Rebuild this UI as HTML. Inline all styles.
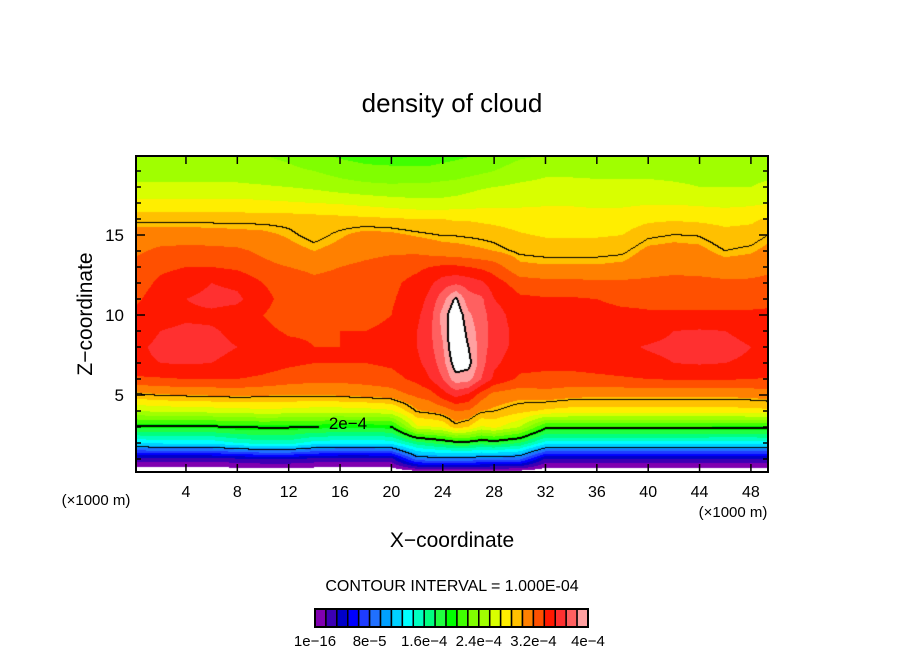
<!DOCTYPE html>
<html><head><meta charset="utf-8">
<style>
html,body{margin:0;padding:0;background:#fff;}
#wrap{position:relative;width:904px;height:654px;overflow:hidden;font-family:"Liberation Sans",sans-serif;}
#field{position:absolute;left:136px;top:156px;}
svg{position:absolute;left:0;top:0;}
</style></head>
<body>
<div id="wrap">
<canvas id="field" width="632" height="316"></canvas>
<svg id="ov" width="904" height="654">
  <text x="452" y="112" font-size="26" text-anchor="middle">density of cloud</text>
  <text x="0" y="0" font-size="21" text-anchor="middle" transform="translate(92,314) rotate(-90)">Z−coordinate</text>
  <text x="452" y="547" font-size="21" text-anchor="middle">X−coordinate</text>
  <text x="96" y="505" font-size="15" text-anchor="middle">(×1000 m)</text>
  <text x="733" y="517" font-size="15" text-anchor="middle">(×1000 m)</text>
  <text x="452" y="591" font-size="16" text-anchor="middle">CONTOUR INTERVAL = 1.000E-04</text>
  <text x="348" y="429" font-size="17" text-anchor="middle">2e−4</text>
  <g id="axes"></g>
  <g id="cbar"></g>
  <rect x="136" y="156" width="632" height="316" fill="none" stroke="#000" stroke-width="2"/>
</svg>
</div>
<script>
// grid data (value in units of 1.6e-5)
const xs=[0,2,4,6,8,10,12,14,16,18,20,22,23,24,25,26,27,28,30,32,34,36,38,40,42,44,46,48,50];
const zs=[20,19,18,17,16,15,14,13,12,11,10,9,8,7,6,5,4,3,2,1,0];
const r20=[15,15,15,15,15,15,14.8,14.3,13.8,13.6,13.6,13.6,13.6,13.7,13.8,13.9,14.1,14.3,14.8,15,15,15,15,15,15,15,15,15,15];
const r19=[15.5,15.5,15.5,15.5,15.5,15.4,15.2,15,14.6,14.3,14.2,14.2,14.2,14.3,14.4,14.6,14.8,15,15.5,15.8,15.8,15.8,15.8,15.8,15.8,15.8,15.8,15.8,15.8];
const r18=[16.2,16.2,16.2,16.2,16.2,16.1,16,15.8,15.5,15.3,15.2,15.3,15.3,15.4,15.5,15.7,15.9,16,16.2,16.3,16.3,16.2,16.2,16.2,16.1,16,16,16,16.2];
const r17=[17.3,17.3,17.3,17.3,17.3,17.2,17.1,17,16.9,16.7,16.5,16.3,16.3,16.3,16.4,16.5,16.6,16.7,16.8,16.9,16.9,16.8,16.8,16.9,16.9,16.8,16.7,16.8,17];
const r16=[18.5,18.5,18.5,18.5,18.5,18.5,18.5,18.4,18.3,18.2,18.1,18,18,18,17.9,17.9,17.8,17.7,17.5,17.4,17.4,17.4,17.5,17.8,17.9,17.8,17.7,17.8,18.3];
const r15=[19.5,19.5,19.5,19.4,19.3,19.2,18.9,18.5,18.9,19.3,19.2,18.9,18.8,18.7,18.7,18.65,18.6,18.5,18.1,17.9,17.9,17.9,18,18.6,18.75,18.7,18.3,18.4,18.9];
const r14=[19.8,20.2,20.3,20.3,20.2,19.8,19.3,19,19.3,19.6,19.8,19.8,19.6,19.4,19.3,19.2,19.1,19,18.6,18.5,18.5,18.5,18.6,19.2,19.3,19.2,18.75,18.9,19.4];
const r13=[20.3,20.8,21,21,20.8,20.3,20,19.8,20,20.3,20.6,20.8,21,21.2,21.2,21,20.8,20.5,19.2,19.1,19.1,19.1,19.2,19.6,19.7,19.6,19.4,19.5,19.8];
const r12=[20.5,21.2,21.5,22,21.8,21,20.5,20.2,20.3,20.5,20.8,21.3,21.8,22.5,22.8,22.6,22.2,21.5,20.5,20.3,20.3,20.2,20.2,20.2,20.3,20.3,20.2,20.2,20.4];
const r11=[20.8,21.5,22,22.3,22.2,21.3,20.6,20.4,20.5,20.6,20.9,21.5,22.3,23.6,25.2,23.4,23.2,22,21.2,21.1,21.1,21,20.8,20.8,20.8,20.8,20.8,20.8,20.9];
const r10=[21.2,21.6,21.8,21.8,21.6,21,20.6,20.6,20.7,20.7,21,21.8,22.6,24.4,26,24.2,23.4,22.5,21.4,21.3,21.4,21.3,21.2,21.1,21.1,21.1,21.1,21.1,21.1];
const r9=[21.5,22,22.2,22.1,21.8,21.2,20.9,20.9,21,21,21.2,22,22.8,24.2,26.3,24.6,23.5,22.6,21.6,21.4,21.4,21.4,21.4,21.5,22,22.1,22,21.8,21.3];
const r8=[21.8,22.2,22.3,22.2,22,21.5,21.2,21,21,21.1,21.3,22,22.7,23.9,26.2,25,23.5,22.5,21.6,21.5,21.5,21.6,21.8,22.1,22.3,22.3,22.2,22,21.6];
const r7=[21.8,22,22.1,22,21.8,21.5,21.2,21,21,21,21.2,21.8,22.4,23.6,25.6,25.4,23.4,22.2,21.4,21.3,21.3,21.4,21.5,21.7,22,22.1,22,21.9,21.5];
const r6=[20.8,20.9,21,21,21,20.8,20.5,20.3,20.3,20.4,20.6,21.3,22,23,24.6,24.4,23,21.8,20.8,20.7,20.7,20.8,20.9,21,21.1,21.1,21.1,21,20.9];
const r5=[18.6,18.9,19,19.1,19.2,19.1,19,19,19.1,19.3,19.5,20.2,20.5,21.5,22.3,21.8,20.5,19.6,19.3,19.6,19.3,19.2,19.2,19.2,19.2,19.2,19.2,19.3,19.5];
const r4=[16,16.2,16.3,16.4,16.5,16.7,16.6,16.4,16.4,16.5,16.8,18.9,19.1,19.4,20,19.9,19,18.8,18.3,17.8,17.6,17.6,17.6,17.6,17.6,17.6,17.6,17.7,17.8];
const r3=[12.2,12.3,12.3,12.3,12.6,12.6,12.6,12.4,12.3,12.3,12.4,16.8,16.9,17.2,18.5,18,16.8,17.3,16,12.9,12.9,12.9,12.9,12.9,12.9,12.9,12.8,12.8,12.9];
const r2=[8,8.2,8.3,8.3,9,9.5,9.5,8.5,8.3,8.3,8.4,10.5,11,11.5,12,12,11.5,11.8,11,8.5,8.5,8.5,8.5,8.5,8.5,8.5,8.5,8.5,8.6];
const r1=[1.5,1.5,1.5,1.5,1.8,2,2,1.7,1.5,1.5,1.6,5.6,5.8,5.8,5.8,5.8,5.6,5.5,5.3,1.8,1.8,1.8,1.8,1.8,1.8,1.8,1.8,1.8,1.8];
const r0=[-1.5,-1.5,-1.5,-1.5,-1.5,-1.5,-1.5,-1.5,-1.5,-1.5,-1.5,-2,-2,-2,-2,-2,-2,-2,-2,-1.5,-1.5,-1.5,-1.5,-1.5,-1.5,-1.5,-1.5,-1.5,-1.5];
const grid=[r20,r19,r18,r17,r16,r15,r14,r13,r12,r11,r10,r9,r8,r7,r6,r5,r4,r3,r2,r1,r0];
const palette=["#8000b0","#3c00b4","#0000c8","#0000ff","#1e3cff","#2070ff","#00a0ff","#00d0ff","#00ffff","#00ffc0","#00ff80","#20ff40","#00ff00","#40ff00","#80ff00","#a0ff00","#d8ff00","#ffee00","#ffc000","#ff8000","#ff5000","#ff1800","#ff3030","#ff6060","#ffa0a0"];
const cbarLabels=["1e−16","8e−5","1.6e−4","2.4e−4","3.2e−4","4e−4"];
const xTicks=[4,8,12,16,20,24,28,32,36,40,44,48];
const yTicks=[5,10,15];

// axis functions
const X0=134.6, XS=12.84, Z0=475, ZS=16;
function xPx(x){return X0+XS*x;}
function zPx(z){return Z0-ZS*z;}
function xData(px){return (px-X0)/XS;}
function zData(py){return (Z0-py)/ZS;}

function sample(x,z){
  x=Math.max(0,Math.min(50,x)); z=Math.max(0,Math.min(20,z));
  let i=0; while(i<xs.length-2 && x>xs[i+1]) i++;
  const fx=(x-xs[i])/(xs[i+1]-xs[i]);
  let j=0; while(j<zs.length-2 && z<zs[j+1]) j++;
  const fz=(zs[j]-z)/(zs[j]-zs[j+1]);
  const a=grid[j][i],b=grid[j][i+1],c=grid[j+1][i],d=grid[j+1][i+1];
  return (a*(1-fx)+b*fx)*(1-fz)+(c*(1-fx)+d*fx)*fz;
}
function hex(h){return [parseInt(h.substr(1,2),16),parseInt(h.substr(3,2),16),parseInt(h.substr(5,2),16)];}
const rgb=palette.map(hex);

const cv=document.getElementById('field');
const ctx=cv.getContext('2d');
const W=cv.width,H=cv.height;
const vals=new Float32Array(W*H);
for(let py=0;py<H;py++)for(let px=0;px<W;px++){
  vals[py*W+px]=sample(xData(136+px+0.5),zData(156+py+0.5));
}
const img=ctx.createImageData(W,H);
function cl(v){return v<0?-1:Math.floor(v/6.25);}
for(let py=0;py<H;py++)for(let px=0;px<W;px++){
  const k=py*W+px,v=vals[k];
  let c=[255,255,255];
  if(v>=0&&v<25){c=rgb[Math.floor(v)];}
  img.data[k*4]=c[0];img.data[k*4+1]=c[1];img.data[k*4+2]=c[2];img.data[k*4+3]=255;
}
function blk(px,py){if(px<0||py<0||px>=W||py>=H)return;const ax=136+px,ay=156+py;if(ax>318&&ax<390&&ay>413&&ay<433)return;const k=(py*W+px)*4;img.data[k]=0;img.data[k+1]=0;img.data[k+2]=0;}
for(let py=0;py<H;py++)for(let px=0;px<W;px++){
  const v=vals[py*W+px];const c=cl(v);
  if(c<0)continue;
  const nb=[[1,0],[0,1]];
  for(const [dx,dy] of nb){
    if(px+dx>=W||py+dy>=H)continue;
    const v2=vals[(py+dy)*W+px+dx];const c2=cl(v2);
    if(c2<0)continue;
    if(c2!==c){
      blk(px,py);
      const lvl=Math.max(c,c2);
      if(lvl===2||lvl===4){blk(px+dx,py+dy);}
    }
  }
}
ctx.putImageData(img,0,0);

// axes
const NS='http://www.w3.org/2000/svg';
const axes=document.getElementById('axes');
function line(x1,y1,x2,y2,w){const l=document.createElementNS(NS,'line');l.setAttribute('x1',x1);l.setAttribute('y1',y1);l.setAttribute('x2',x2);l.setAttribute('y2',y2);l.setAttribute('stroke','#000');l.setAttribute('stroke-width',w);axes.appendChild(l);return l;}
xTicks.forEach(t=>{
  const x=xPx(t);
  const a=line(x,472,x,464,1.5);
  
  
  const b=line(x,156,x,164,1.5);
  
  
  const tx=document.createElementNS(NS,'text');
  tx.setAttribute('x',x);tx.setAttribute('y',497);tx.setAttribute('font-size','16');tx.setAttribute('text-anchor','middle');
  tx.textContent=t;
  
  
  axes.appendChild(tx);
});
for(let z=1;z<=19;z++){
  const y=zPx(z);const L=(z%5===0)?9:5;
  const a=line(136,y,136+L,y,1.5);
  
  
  const b=line(768,y,768-L,y,1.5);
  
  
}
yTicks.forEach(t=>{
  const tx=document.createElementNS(NS,'text');
  tx.setAttribute('x',124);tx.setAttribute('y',zPx(t)+6);tx.setAttribute('font-size','17');tx.setAttribute('text-anchor','end');
  tx.textContent=t;
  
  
  axes.appendChild(tx);
});
// colorbar
const cb=document.getElementById('cbar');
const CBX=315,CBW=273/25;
palette.forEach((p,i)=>{
  const r=document.createElementNS(NS,'rect');
  r.setAttribute('x',CBX+i*CBW);r.setAttribute('y',609);r.setAttribute('width',CBW);r.setAttribute('height',18);
  r.setAttribute('fill',p);r.setAttribute('stroke','#000');r.setAttribute('stroke-width','1.5');
  
  
  cb.appendChild(r);
});
const fr=document.createElementNS(NS,'rect');
fr.setAttribute('x',CBX);fr.setAttribute('y',609);fr.setAttribute('width',273);fr.setAttribute('height',18);fr.setAttribute('fill','none');fr.setAttribute('stroke','#000');fr.setAttribute('stroke-width','2');


cb.appendChild(fr);
cbarLabels.forEach((l,i)=>{
  const tx=document.createElementNS(NS,'text');
  tx.setAttribute('x',CBX+i*5*CBW);tx.setAttribute('y',646);tx.setAttribute('font-size','15');tx.setAttribute('text-anchor','middle');
  tx.textContent=l;
  
  
  cb.appendChild(tx);
});
</script>
</body></html>
